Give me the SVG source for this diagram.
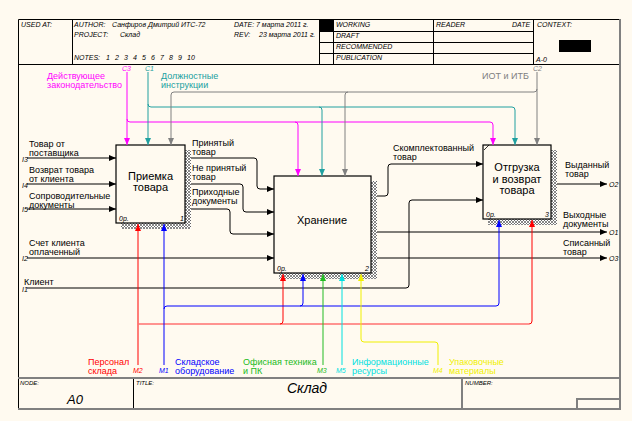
<svg xmlns="http://www.w3.org/2000/svg" width="632" height="421" viewBox="0 0 632 421">
<style>
text{font-family:"Liberation Sans",Arial,sans-serif;}
.h{font-size:7px;font-style:italic;fill:#000;}
.hs{font-size:6px;font-style:italic;fill:#000;}
.l{font-size:9px;fill:#000;}
.t{font-size:11px;fill:#000;text-anchor:middle;}
.n{font-size:7px;font-style:italic;fill:#000;}
.c{fill:none;stroke-width:1;}
.k{stroke:#000;}
.mg{stroke:#ff00ff;}.tl{stroke:#20a0a0;}.gy{stroke:#808080;}
.rd{stroke:#ff0000;}.bl{stroke:#0000ff;}.gn{stroke:#22bb22;}.cy{stroke:#00e0e0;}.yl{stroke:#f0f000;}
.box{fill:#fffaf0;stroke:#000;stroke-width:1.2;}
.sh{fill:url(#hatch);}
.fr{fill:none;stroke:#000;stroke-width:1;}
.fg{fill:none;stroke:#808080;stroke-width:2;}
</style>
<defs>
<pattern id="hatch" width="3" height="3" patternUnits="userSpaceOnUse">
<rect width="3" height="3" fill="#fff"/>
<path d="M0,0L3,3M3,0L0,3" stroke="#555" stroke-width="0.7"/>
</pattern>
<marker id="ak" markerUnits="userSpaceOnUse" markerWidth="8" markerHeight="7" refX="7" refY="3" orient="auto"><path d="M0,0L7,3L0,6z" fill="#000"/></marker>
<marker id="amg" markerUnits="userSpaceOnUse" markerWidth="8" markerHeight="7" refX="7" refY="3" orient="auto"><path d="M0,0L7,3L0,6z" fill="#ff00ff"/></marker>
<marker id="atl" markerUnits="userSpaceOnUse" markerWidth="8" markerHeight="7" refX="7" refY="3" orient="auto"><path d="M0,0L7,3L0,6z" fill="#20a0a0"/></marker>
<marker id="agy" markerUnits="userSpaceOnUse" markerWidth="8" markerHeight="7" refX="7" refY="3" orient="auto"><path d="M0,0L7,3L0,6z" fill="#808080"/></marker>
<marker id="ard" markerUnits="userSpaceOnUse" markerWidth="8" markerHeight="7" refX="7" refY="3" orient="auto"><path d="M0,0L7,3L0,6z" fill="#ff0000"/></marker>
<marker id="abl" markerUnits="userSpaceOnUse" markerWidth="8" markerHeight="7" refX="7" refY="3" orient="auto"><path d="M0,0L7,3L0,6z" fill="#0000ff"/></marker>
<marker id="agn" markerUnits="userSpaceOnUse" markerWidth="8" markerHeight="7" refX="7" refY="3" orient="auto"><path d="M0,0L7,3L0,6z" fill="#22bb22"/></marker>
<marker id="acy" markerUnits="userSpaceOnUse" markerWidth="8" markerHeight="7" refX="7" refY="3" orient="auto"><path d="M0,0L7,3L0,6z" fill="#00e0e0"/></marker>
<marker id="ayl" markerUnits="userSpaceOnUse" markerWidth="8" markerHeight="7" refX="7" refY="3" orient="auto"><path d="M0,0L7,3L0,6z" fill="#f0f000"/></marker>
</defs>
<rect width="632" height="421" fill="#fffaf0"/>

<g id="frame">
<path class="fr" d="M18.5,409V19.5H620M18.5,64.5H620M72.5,19.5V64.5M319.5,19.5V64.5M333.5,19.5V64.5M433.5,19.5V64.5M533.5,19.5V64.5M319.5,31.5H533.5M319.5,42.5H533.5M319.5,53.5H533.5M133.5,378V409"/>
<rect x="319" y="19" width="14" height="12" fill="#000"/>
<rect x="559" y="40" width="32" height="12" fill="#000"/>
<path class="fg" d="M620,19V409H18M18,378H620M462,378V409M577,409V399H620"/>
<text class="h" x="21" y="27">USED AT:</text>
<text class="h" x="74" y="27">AUTHOR:</text>
<text class="h" x="112" y="27">Санфиров Дмитрий ИТС-72</text>
<text class="h" x="74" y="37">PROJECT:</text>
<text class="h" x="120" y="37">Склад</text>
<text class="h" x="234" y="27">DATE:</text>
<text class="h" x="256" y="27">7 марта 2011 г.</text>
<text class="h" x="234" y="37">REV:</text>
<text class="h" x="259" y="37">23 марта 2011 г.</text>
<text class="h" x="74" y="60">NOTES:</text>
<text class="h" x="106" y="60">1</text><text class="h" x="115" y="60">2</text><text class="h" x="124" y="60">3</text><text class="h" x="133" y="60">4</text><text class="h" x="142" y="60">5</text><text class="h" x="151" y="60">6</text><text class="h" x="160" y="60">7</text><text class="h" x="169" y="60">8</text><text class="h" x="178" y="60">9</text><text class="h" x="187" y="60">10</text>
<text class="h" x="336" y="27">WORKING</text>
<text class="h" x="336" y="38">DRAFT</text>
<text class="h" x="336" y="49">RECOMMENDED</text>
<text class="h" x="336" y="60">PUBLICATION</text>
<text class="h" x="436" y="27">READER</text>
<text class="h" x="512" y="27">DATE</text>
<text class="h" x="537" y="27">CONTEXT:</text>
<text class="h" x="536" y="62">A-0</text>
<text class="hs" x="20" y="385">NODE:</text>
<text x="67" y="404" style="font-size:13px;font-style:italic">A0</text>
<text class="hs" x="136" y="385">TITLE:</text>
<text x="307" y="393" style="font-size:14px;font-style:italic;text-anchor:middle">Склад</text>
<text class="hs" x="465" y="385">NUMBER:</text>
</g>

<g id="box1">
<rect class="sh" x="185" y="150" width="6" height="79"/>
<rect class="sh" x="121" y="223" width="70" height="6"/>
<rect class="box" x="116" y="145" width="69" height="78"/>
<text class="t" x="150.5" y="180">Приемка</text>
<text class="t" x="150.5" y="191">товара</text>
<text class="n" x="119" y="221">0р.</text>
<text class="n" x="180" y="221">1</text>
</g>
<g id="box2">
<rect class="sh" x="371" y="181" width="6" height="98"/>
<rect class="sh" x="279" y="273" width="98" height="6"/>
<rect class="box" x="274" y="176" width="97" height="97"/>
<text class="t" x="322" y="224">Хранение</text>
<text class="n" x="277" y="271">0р.</text>
<text class="n" x="365" y="271">2</text>
</g>
<g id="box3">
<rect class="sh" x="551" y="150" width="6" height="75"/>
<rect class="sh" x="488" y="219" width="69" height="6"/>
<rect class="box" x="483" y="145" width="68" height="74"/>
<path d="M484,150L489,145" stroke="#000" stroke-width="0.8"/>
<text class="t" x="517" y="171">Отгрузка</text>
<text class="t" x="517" y="183">и возврат</text>
<text class="t" x="517" y="194">товара</text>
<text class="n" x="486" y="217">0р.</text>
<text class="n" x="545" y="217">3</text>
</g>

<g id="connectors">
<path class="c k" marker-end="url(#ak)" d="M27,158H116"/>
<path class="c k" marker-end="url(#ak)" d="M27,184H116"/>
<path class="c k" marker-end="url(#ak)" d="M27,209H116"/>
<path class="c k" marker-end="url(#ak)" d="M27,258H274"/>
<path class="c k" marker-end="url(#ak)" d="M27,288H406Q409,288 409,285V203Q409,200 412,200H483"/>
<path class="c k" marker-end="url(#ak)" d="M191,158H254Q257,158 257,161V186Q257,189 260,189H274"/>
<path class="c k" marker-end="url(#ak)" d="M191,184H240Q243,184 243,187V209Q243,212 246,212H274"/>
<path class="c k" marker-end="url(#ak)" d="M191,209H227Q230,209 230,212V231Q230,234 233,234H274"/>
<path class="c k" marker-end="url(#ak)" d="M377,196H385Q388,196 388,193V167Q388,164 391,164H483"/>
<path class="c k" marker-end="url(#ak)" d="M377,232H607"/>
<path class="c k" marker-end="url(#ak)" d="M377,258H607"/>
<path class="c k" marker-end="url(#ak)" d="M557,184H607"/>

<path class="c mg" marker-end="url(#amg)" d="M127,72V145"/>
<path class="c mg" marker-end="url(#amg)" d="M127,119Q127,122 130,122H490Q493,122 493,125V145"/>
<path class="c mg" marker-end="url(#amg)" d="M295,122Q298,122 298,125V176"/>
<path class="c tl" marker-end="url(#atl)" d="M148,72V145"/>
<path class="c tl" marker-end="url(#atl)" d="M148,104Q148,107 151,107H512Q515,107 515,110V145"/>
<path class="c tl" marker-end="url(#atl)" d="M319,107Q322,107 322,110V176"/>
<path class="c gy" marker-end="url(#agy)" d="M537,72V145"/>
<path class="c gy" marker-end="url(#agy)" d="M537,89Q537,92 534,92H174Q171,92 171,95V145"/>
<path class="c gy" marker-end="url(#agy)" d="M348,92Q345,92 345,95V176"/>

<path class="c rd" marker-end="url(#ard)" d="M138,365V224"/>
<path class="c rd" style="stroke:#ff7070;stroke-width:1.6" d="M138,324H529"/>
<path class="c rd" marker-end="url(#ard)" d="M529,324Q532,324 532,321V220"/>
<path class="c rd" marker-end="url(#ard)" d="M280,324Q283,324 283,321V274"/>
<path class="c bl" marker-end="url(#abl)" d="M164,365V224"/>
<path class="c bl" marker-end="url(#abl)" d="M164,309Q164,306 167,306H496Q499,306 499,303V220"/>
<path class="c bl" marker-end="url(#abl)" d="M300,306Q303,306 303,303V274"/>
<path class="c gn" marker-end="url(#agn)" d="M323,365V274"/>
<path class="c cy" marker-end="url(#acy)" d="M342,365V274"/>
<path class="c yl" marker-end="url(#ayl)" d="M438,365V345Q438,342 435,342H364Q361,342 361,339V274"/>
</g>

<g id="labels">
<text class="l" x="29" y="146.5">Товар от</text>
<text class="l" x="29" y="156">поставщика</text>
<text class="l" x="29" y="172.5">Возврат товара</text>
<text class="l" x="29" y="181.5">от клиента</text>
<text class="l" x="29" y="198.5">Сопроводительные</text>
<text class="l" x="29" y="207.5">документы</text>
<text class="l" x="29" y="245.5">Счет клиента</text>
<text class="l" x="29" y="254.5">оплаченный</text>
<text class="l" x="24" y="284.5">Клиент</text>
<text class="n" x="22" y="162">I3</text>
<text class="n" x="22" y="188">I4</text>
<text class="n" x="22" y="212">I5</text>
<text class="n" x="22" y="261">I2</text>
<text class="n" x="22" y="292">I1</text>
<text class="l" x="192" y="145.5">Принятый</text>
<text class="l" x="192" y="155">товар</text>
<text class="l" x="192" y="170.5">Не принятый</text>
<text class="l" x="192" y="179.5">товар</text>
<text class="l" x="192" y="194.5">Приходные</text>
<text class="l" x="192" y="204">документы</text>
<text class="l" x="393" y="150.5">Скомплектованный</text>
<text class="l" x="393" y="160">товар</text>
<text class="l" x="565" y="167.5">Выданный</text>
<text class="l" x="565" y="177">товар</text>
<text class="l" x="563" y="217.5">Выходные</text>
<text class="l" x="563" y="226.5">документы</text>
<text class="l" x="563" y="245.5">Списанный</text>
<text class="l" x="563" y="254.5">товар</text>
<text class="n" x="609" y="187">O2</text>
<text class="n" x="609" y="235">O1</text>
<text class="n" x="609" y="261">O3</text>
<text class="n" x="122" y="70.5" style="fill:#ff00ff">C3</text>
<text class="n" x="145" y="70.5" style="fill:#20a0a0">C1</text>
<text class="n" x="533" y="70.5" style="fill:#808080">C2</text>
<text class="l" x="47" y="78.5" style="fill:#ff00ff">Действующее</text>
<text class="l" x="47" y="87.5" style="fill:#ff00ff">законодательство</text>
<text class="l" x="161" y="78.5" style="fill:#20a0a0">Должностные</text>
<text class="l" x="161" y="87.5" style="fill:#20a0a0">инструкции</text>
<text class="l" x="482" y="78.5" style="fill:#808080">ИОТ и ИТБ</text>
<text class="l" x="88" y="364.5" style="fill:#ff0000">Персонал</text>
<text class="l" x="88" y="373.5" style="fill:#ff0000">склада</text>
<text class="n" x="133" y="373" style="fill:#ff0000">M2</text>
<text class="n" x="159" y="373" style="fill:#0000ff">M1</text>
<text class="l" x="175" y="364.5" style="fill:#0000ff">Складское</text>
<text class="l" x="175" y="373.5" style="fill:#0000ff">оборудование</text>
<text class="l" x="243" y="364.5" style="fill:#22bb22">Офисная техника</text>
<text class="l" x="243" y="373.5" style="fill:#22bb22">и ПК</text>
<text class="n" x="317" y="373" style="fill:#22bb22">M3</text>
<text class="n" x="336" y="373" style="fill:#00e0e0">M5</text>
<text class="l" x="352" y="364.5" style="fill:#00e0e0">Информационные</text>
<text class="l" x="352" y="373.5" style="fill:#00e0e0">ресурсы</text>
<text class="n" x="433" y="373" style="fill:#f0f000">M4</text>
<text class="l" x="449" y="364.5" style="fill:#f0f000">Упаковочные</text>
<text class="l" x="449" y="373.5" style="fill:#f0f000">материалы</text>
</g>
</svg>
